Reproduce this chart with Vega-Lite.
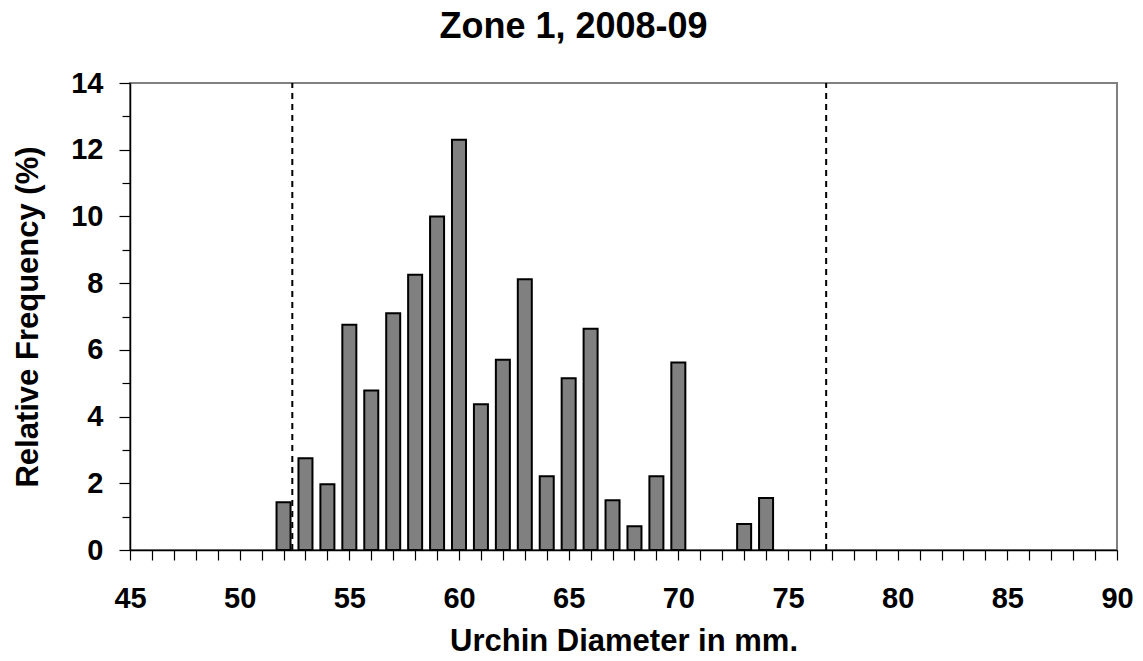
{
  "$schema": "https://vega.github.io/schema/vega-lite/v6.json",
  "width": 987,
  "height": 467,
  "autosize": "none",
  "padding": {"left": 130, "top": 83, "right": 26, "bottom": 111},
  "background": "white",
  "title": {
    "text": "Zone 1, 2008-09",
    "font": "Liberation Sans",
    "fontSize": 36,
    "fontWeight": "bold",
    "color": "black",
    "anchor": "middle",
    "frame": "group",
    "dx": -50,
    "baseline": "alphabetic",
    "offset": -5
  },
  "config": {
    "view": {"stroke": "#808080", "strokeWidth": 2},
    "axis": {
      "labelFont": "Liberation Sans",
      "labelFontWeight": "bold",
      "labelFontSize": 29,
      "labelColor": "black",
      "labelOverlap": false,
      "titleFont": "Liberation Sans",
      "titleFontWeight": "bold",
      "titleFontSize": 31,
      "titleColor": "black",
      "domainColor": "black",
      "domainWidth": 1.5,
      "tickColor": "black",
      "tickWidth": 1.2,
      "grid": false
    }
  },
  "datasets": {
    "bars": [
      {"diameter": 52, "freq": 1.43},
      {"diameter": 53, "freq": 2.75},
      {"diameter": 54, "freq": 1.97},
      {"diameter": 55, "freq": 6.75},
      {"diameter": 56, "freq": 4.78},
      {"diameter": 57, "freq": 7.1},
      {"diameter": 58, "freq": 8.25},
      {"diameter": 59, "freq": 10.0},
      {"diameter": 60, "freq": 12.3},
      {"diameter": 61, "freq": 4.37},
      {"diameter": 62, "freq": 5.7},
      {"diameter": 63, "freq": 8.12},
      {"diameter": 64, "freq": 2.21},
      {"diameter": 65, "freq": 5.15},
      {"diameter": 66, "freq": 6.63},
      {"diameter": 67, "freq": 1.49},
      {"diameter": 68, "freq": 0.71},
      {"diameter": 69, "freq": 2.21},
      {"diameter": 70, "freq": 5.62},
      {"diameter": 73, "freq": 0.78},
      {"diameter": 74, "freq": 1.56}
    ],
    "limits": [
      {"limit": 52.4},
      {"limit": 76.74}
    ]
  },
  "layer": [
    {
      "data": {"name": "bars"},
      "mark": {"type": "bar", "width": 14, "fill": "#808080", "stroke": "black", "strokeWidth": 2},
      "encoding": {
        "x": {
          "field": "diameter",
          "type": "quantitative",
          "scale": {"domain": [45, 90], "nice": false, "zero": false, "padding": 0},
          "axis": {
            "title": "Urchin Diameter in mm.",
            "values": [45,46,47,48,49,50,51,52,53,54,55,56,57,58,59,60,61,62,63,64,65,66,67,68,69,70,71,72,73,74,75,76,77,78,79,80,81,82,83,84,85,86,87,88,89,90],
            "tickCount": 46,
            "labelExpr": "datum.value % 5 === 0 ? datum.label : ''",
            "tickSize": 10,
            "labelPadding": 24,
            "labelFlush": false,
            "labelOverlap": false,
            "labelBound": false,
            "titlePadding": 13
          }
        },
        "y": {
          "field": "freq",
          "type": "quantitative",
          "scale": {"domain": [0, 14], "nice": false},
          "axis": {
            "title": "Relative Frequency (%)",
            "values": [0,1,2,3,4,5,6,7,8,9,10,11,12,13,14],
            "tickCount": 15,
            "labelExpr": "datum.value % 2 === 0 ? datum.label : ''",
            "tickSize": {"condition": {"test": "datum.value % 2 === 1", "value": 8}, "value": 11},
            "labelPadding": 16,
            "labelOverlap": false,
            "labelFlush": false,
            "titlePadding": 26
          }
        }
      }
    },
    {
      "data": {"name": "limits"},
      "mark": {"type": "rule", "color": "black", "strokeWidth": 2, "strokeDash": [6, 5]},
      "encoding": {
        "x": {"field": "limit", "type": "quantitative"},
        "y": {"datum": 0},
        "y2": {"datum": 14}
      }
    }
  ]
}
